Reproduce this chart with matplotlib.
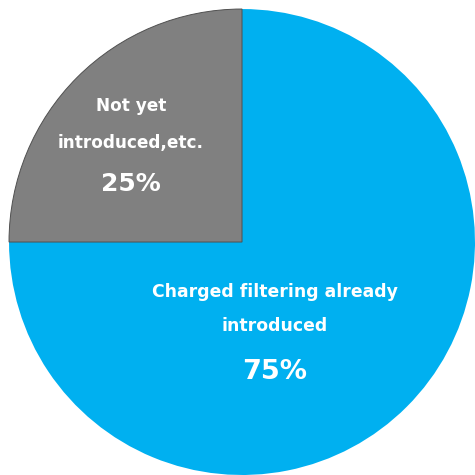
import matplotlib.pyplot as plt

plt.rcParams['font.family'] = ['DejaVu Sans']

labels = ["Charged filtering already\nintroduced", "Not yet\nintroduced,etc."]
values = [75, 25]
pct_labels = ["75%", "25%"]
colors = ["#00B0F0", "#808080"]

fig = plt.figure(figsize=(4.75, 4.75), dpi=100)
ax = fig.add_axes([0.019, 0.0, 0.981, 0.981])
wedges, _ = ax.pie(values, colors=colors, startangle=90, counterclock=False,
                   radius=1.0, wedgeprops=dict(linewidth=0))
wedges[1].set_edgecolor("#505050")
wedges[1].set_linewidth(0.7)
ax.set_xlim(-1, 1)
ax.set_ylim(-1, 1)
ax.set_aspect("equal")
ax.axis("off")

def d(px, py):
    return (px - 242) / 233.0, (242 - py) / 233.0

# blue labels
x, y = d(275, 292); ax.text(x, y, "Charged filtering already", color="white", fontsize=12.4, fontweight="bold", ha="center", va="center")
x, y = d(275, 326); ax.text(x, y, "introduced", color="white", fontsize=12.4, fontweight="bold", ha="center", va="center")
x, y = d(275, 372); ax.text(x, y, pct_labels[0], color="white", fontsize=19.5, fontweight="bold", ha="center", va="center")
# gray labels
x, y = d(131, 106); ax.text(x, y, "Not yet", color="white", fontsize=12.2, fontweight="bold", ha="center", va="center")
x, y = d(131, 143); ax.text(x, y, "introduced,etc.", color="white", fontsize=12.2, fontweight="bold", ha="center", va="center")
x, y = d(131, 184); ax.text(x, y, pct_labels[1], color="white", fontsize=18, fontweight="bold", ha="center", va="center")

fig.savefig("out.png", dpi=100)
